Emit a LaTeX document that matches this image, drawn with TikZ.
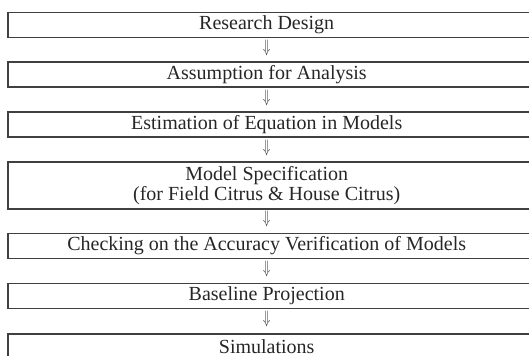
\documentclass[tikz,border=0pt]{standalone}
\usepackage{fontspec}
\setmainfont{Liberation Serif}
\usepackage{graphicx}
\usepackage{tikz}
\usetikzlibrary{calc}

\tikzset{
    stage/.style = {draw = black!75, line width = 0.65pt, rectangle, minimum width = 263.5pt, minimum height = 12.5pt, inner sep = 0pt},
    stagetext/.style = {align = center, inner sep = 0pt, text = black!85, font = \fontsize{10}{8.4}\selectfont},
    flow/.style = {inner sep = 0pt, text = black!80, font = \fontsize{10}{10}\selectfont}
}
\newcommand{\flowarrow}{\scalebox{0.62}[0.9]{$\Downarrow$}}

\begin{document}
\begin{tikzpicture}[x = 0.5pt, y = -0.5pt]
            \useasboundingbox (0, 0) rectangle (529, 355);
            \clip (0, 0) rectangle (529, 355);
            
            % boxes (right and bottom edges run off the page)
            \node[stage] (design) at (271.5, 24.75) {};
            \node[stage] (assume) at (271.5, 74.5) {};
            \node[stage] (estim) at (271.5, 124.5) {};
            \node[stage, minimum height = 23.5pt] (spec) at (271.5, 185.5) {};
            \node[stage] (check) at (271.5, 246) {};
            \node[stage] (base) at (271.5, 296) {};
            \node[stage] (simul) at (271.5, 346.5) {};
            
            \node[stagetext] at ($(design) + (-4.8, 0)$) {Research Design};
            \node[stagetext] at ($(assume) + (-4.8, 0)$) {Assumption for Analysis};
            \node[stagetext] at ($(estim) + (-4.8, 0)$) {Estimation of Equation in Models};
            \node[stagetext] at ($(spec) + (-4.8, 0)$) {Model Specification\\(for Field Citrus \& House Citrus)};
            \node[stagetext] at ($(check) + (-4.8, 0)$) {Checking on the Accuracy Verification of Models};
            \node[stagetext] at ($(base) + (-4.8, 0)$) {Baseline Projection};
            \node[stagetext] at ($(simul) + (-4.8, 0)$) {Simulations};
            
            % arrows between the stages
            \node[flow] at ($(design.south)!0.5!(assume.north) + (-4.8, -2)$) {\flowarrow};
            \node[flow] at ($(assume.south)!0.5!(estim.north) + (-4.8, -2)$) {\flowarrow};
            \node[flow] at ($(estim.south)!0.5!(spec.north) + (-4.8, -2)$) {\flowarrow};
            \node[flow] at ($(spec.south)!0.5!(check.north) + (-4.8, -2)$) {\flowarrow};
            \node[flow] at ($(check.south)!0.5!(base.north) + (-4.8, -2)$) {\flowarrow};
            \node[flow] at ($(base.south)!0.5!(simul.north) + (-4.8, -2)$) {\flowarrow};
            
        \end{tikzpicture}
\end{document}
